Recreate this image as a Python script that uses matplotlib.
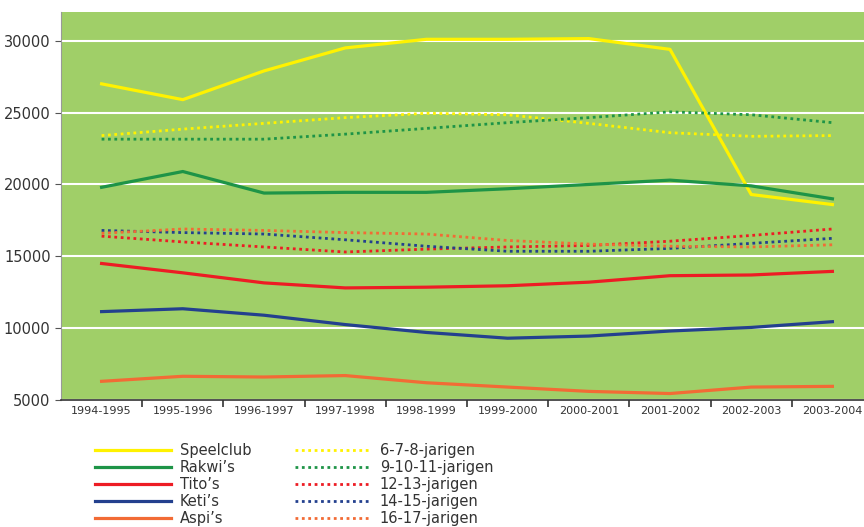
import matplotlib

matplotlib.use("Agg")
import matplotlib.pyplot as plt
import numpy as np

SEASONS = ["1994-1995", "1995-1996", "1996-1997", "1997-1998", "1998-1999",
           "1999-2000", "2000-2001", "2001-2002", "2002-2003", "2003-2004"]

# branches (solid lines)
speelclub = [27000, 25900, 27900, 29500, 30100, 30100, 30150, 29400, 19300, 18600]
rakwis = [19800, 20900, 19400, 19450, 19450, 19700, 20000, 20300, 19900, 19000]
titos = [14500, 13850, 13150, 12800, 12850, 12950, 13200, 13650, 13700, 13950]
ketis = [11150, 11350, 10900, 10250, 9700, 9300, 9450, 9800, 10050, 10450]
aspis = [6300, 6650, 6600, 6700, 6200, 5900, 5600, 5450, 5900, 5950]

# age groups (dotted lines)
age_6_8 = [23400, 23850, 24250, 24650, 24950, 24850, 24250, 23600, 23350, 23400]
age_9_11 = [23150, 23150, 23150, 23500, 23900, 24300, 24650, 25050, 24850, 24300]
age_12_13 = [16400, 16000, 15650, 15300, 15500, 15650, 15750, 16050, 16450, 16900]
age_14_15 = [16800, 16650, 16550, 16150, 15700, 15350, 15350, 15550, 15900, 16250]
age_16_17 = [16600, 16900, 16800, 16650, 16550, 16100, 15850, 15700, 15650, 15800]

SOLID_LABELS = ["Speelclub", "Rakwi\u2019s", "Tito\u2019s", "Keti\u2019s", "Aspi\u2019s"]
DOTTED_LABELS = ["6-7-8-jarigen", "9-10-11-jarigen", "12-13-jarigen",
                 "14-15-jarigen", "16-17-jarigen"]
COLORS = ["#fff200", "#1e9447", "#ed1c24", "#23408e", "#f26b35"]

solid_series = [speelclub, rakwis, titos, ketis, aspis]
dotted_series = [age_6_8, age_9_11, age_12_13, age_14_15, age_16_17]

fig = plt.figure(figsize=(8.64, 5.27), dpi=100)
ax = fig.add_axes([61 / 864, 1 - 400 / 527, (873 - 61) / 864, 388 / 527])
ax.set_facecolor("#a0cf68")

x = np.arange(len(SEASONS))
handles = []
for values, color, label in zip(solid_series, COLORS, SOLID_LABELS):
    (h,) = ax.plot(x, values, color=color, lw=2.3, label=label, zorder=3)
    handles.append(h)
for values, color, label in zip(dotted_series, COLORS, DOTTED_LABELS):
    (h,) = ax.plot(x, values, color=color, lw=2.0, ls=(0, (1, 1.3)), label=label, zorder=3)
    handles.append(h)

ax.set_xlim(-0.5, len(SEASONS) - 0.5)
ax.set_ylim(5000, 32000)
ax.set_yticks(range(5000, 30001, 5000))
ax.yaxis.grid(True, color="white", lw=1.5)
ax.set_axisbelow(True)
ax.tick_params(axis="y", labelsize=10.5, length=4, color="#555555", labelcolor="#333333")

ax.set_xticks(x, SEASONS)
ax.set_xticks(np.arange(0.5, len(SEASONS) - 0.5), minor=True)
ax.tick_params(axis="x", which="major", length=0, labelsize=8, labelcolor="#333333", pad=4)
ax.tick_params(axis="x", which="minor", length=5, width=1.2, color="#333333")

for side in ("top", "right"):
    ax.spines[side].set_visible(False)
ax.spines["left"].set_color("#999999")
ax.spines["bottom"].set_color("#333333")
ax.spines["bottom"].set_linewidth(1.2)

fig.legend(handles=handles, ncol=2, loc="upper left", bbox_to_anchor=(88 / 864, 1 - 436 / 527),
           frameon=False, fontsize=10.5, handlelength=5.2, handletextpad=0.6,
           columnspacing=3.0, labelspacing=0.14, borderpad=0, labelcolor="#333333")

fig.savefig("out.png", dpi=100)
